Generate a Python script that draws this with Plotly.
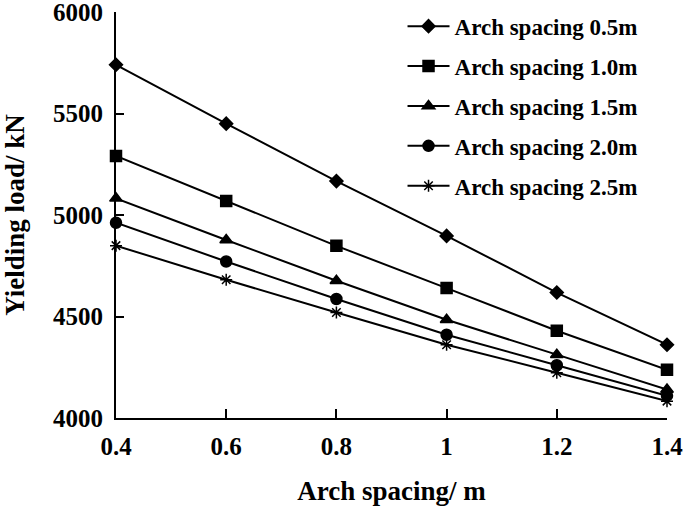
import plotly.graph_objects as go

# Arch spacing on the x axis (m)
spacing = [0.4, 0.6, 0.8, 1.0, 1.2, 1.4]
x_labels = ["0.4", "0.6", "0.8", "1", "1.2", "1.4"]
y_ticks = [4000, 4500, 5000, 5500, 6000]

# Yielding load (kN) for each series
load_05 = [5740, 5450, 5167, 4897, 4618, 4361]
load_10 = [5291, 5069, 4848, 4640, 4430, 4238]
load_15 = [5082, 4877, 4676, 4484, 4312, 4140]
load_20 = [4962, 4771, 4586, 4410, 4260, 4110]
load_25 = [4849, 4681, 4520, 4361, 4223, 4083]

series_names = ["Arch spacing 0.5m", "Arch spacing 1.0m", "Arch spacing 1.5m",
                "Arch spacing 2.0m", "Arch spacing 2.5m"]
series_values = [load_05, load_10, load_15, load_20, load_25]
symbols = ["diamond", "square", "triangle-up", "circle", "asterisk-open"]
sizes = [10, 11, 11, 11, 10]

FONT = "Liberation Serif"

fig = go.Figure()
for i, (name, vals) in enumerate(zip(series_names, series_values)):
    fig.add_trace(go.Scatter(
        x=spacing,
        y=vals,
        mode="lines+markers",
        name=name,
        legendgroup=f"g{i}",
        line=dict(color="black", width=2),
        marker=dict(symbol=symbols[i], size=sizes[i], color="black",
                    line=dict(color="black", width=1.5)),
        cliponaxis=False,
    ))

tick_font = dict(family=FONT, size=25, color="black", weight="bold")
title_font = dict(family=FONT, size=27, color="black", weight="bold")

fig.update_layout(
    width=685,
    height=506,
    plot_bgcolor="white",
    paper_bgcolor="white",
    margin=dict(l=116, r=18, t=12, b=88, autoexpand=False),
    font=dict(family=FONT, color="black"),
    showlegend=True,
    legend=dict(
        x=0.52, y=1.018, xanchor="left", yanchor="top",
        font=dict(family=FONT, size=23, color="black", weight="bold"),
        bgcolor="rgba(0,0,0,0)",
        tracegroupgap=7,
        itemwidth=42,
    ),
    xaxis=dict(
        range=[0.4, 1.4],
        tickvals=spacing,
        ticktext=x_labels,
        ticks="inside", ticklen=9, tickwidth=2, tickcolor="black",
        ticklabelstandoff=5, ticklabeloverflow="allow",
        showline=True, linecolor="black", linewidth=2,
        showgrid=False, zeroline=False, automargin=False,
        tickfont=tick_font,
        title=dict(text="Arch spacing/ m", font=title_font, standoff=24),
    ),
    yaxis=dict(
        range=[4000, 6000],
        tickvals=y_ticks,
        ticks="inside", ticklen=8, tickwidth=2, tickcolor="black",
        ticklabelstandoff=6, ticklabeloverflow="allow",
        showline=True, linecolor="black", linewidth=2,
        showgrid=False, zeroline=False, automargin=False,
        tickfont=tick_font,
        title=dict(text="Yielding load/ kN", font=title_font, standoff=28),
    ),
)

# drop the page's default 8px body margin so the figure fills the window
fig.write_html("out.html", config={"displayModeBar": False},
               post_script="document.body.style.margin = '0';")
